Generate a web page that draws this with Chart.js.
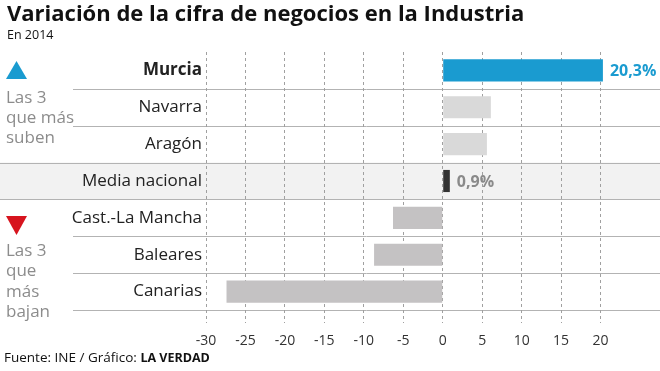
<!DOCTYPE html>
<html lang="es">
<head>
<meta charset="UTF-8">
<title>Variación de la cifra de negocios en la Industria</title>
<script src="https://cdn.jsdelivr.net/npm/chart.js@4.4.1/dist/chart.umd.min.js"></script>
<style>
  body { margin: 0; background: #fff; }
  #wrap { width: 660px; height: 371px; position: relative; }
</style>
</head>
<body>
<div id="wrap"><canvas id="chart"></canvas></div>
<script>
// datos
const regions = ['Murcia', 'Navarra', 'Aragón', 'Media nacional', 'Cast.-La Mancha', 'Baleares', 'Canarias'];
const variation = [20.3, 6.1, 5.6, 0.9, -6.3, -8.7, -27.4];
const valueLabels = ['20,3%', null, null, '0,9%', null, null, null];
const xTicks = [-30, -25, -20, -15, -10, -5, 0, 5, 10, 15, 20];

const FONT = '"Open Sans", sans-serif';
const barColors = ['#1a9bd0', '#d9d9d9', '#d9d9d9', '#333333', '#c4c2c3', '#c4c2c3', '#c4c2c3'];
const labelColors = ['#1a9bd0', null, null, '#8a8a8a'];
const MEDIA = 3;

const decor = {
    id: 'decor',
    beforeDraw(chart) {
        const ctx = chart.ctx;
        const y = chart.scales.y;
        const half = (y.getPixelForValue(1) - y.getPixelForValue(0)) / 2;
        const W = chart.width;
        ctx.save();
        // fila de la media nacional
        ctx.fillStyle = '#f2f2f2';
        ctx.fillRect(0, y.getPixelForValue(MEDIA) - half, W, half * 2);
        // separadores de filas
        ctx.strokeStyle = '#b3b3b3';
        ctx.lineWidth = 1;
        for (let i = 0; i < regions.length; i++) {
            const yy = Math.round(y.getPixelForValue(i) + half) + 0.5;
            const x0 = (i === MEDIA - 1 || i === MEDIA) ? 0 : 73;
            ctx.beginPath();
            ctx.moveTo(x0, yy);
            ctx.lineTo(W, yy);
            ctx.stroke();
        }
        ctx.restore();
    },
    afterDatasetsDraw(chart) {
        const ctx = chart.ctx;
        const meta = chart.getDatasetMeta(0);
        ctx.save();
        ctx.font = 'bold 16px ' + FONT;
        ctx.textBaseline = 'middle';
        ctx.textAlign = 'left';
        valueLabels.forEach((t, i) => {
            if (!t) return;
            const bar = meta.data[i];
            ctx.fillStyle = labelColors[i];
            ctx.fillText(t, bar.x + 7, bar.y + 1);
        });
        ctx.restore();
    },
    afterDraw(chart) {
        const ctx = chart.ctx;
        ctx.save();
        ctx.textAlign = 'left';
        ctx.textBaseline = 'alphabetic';
        ctx.fillStyle = '#111';
        ctx.font = 'bold 22px ' + FONT;
        ctx.fillText('Variación de la cifra de negocios en la Industria', 7, 21);
        ctx.font = '12.5px ' + FONT;
        ctx.fillText('En 2014', 7, 39);

        // pie
        ctx.font = '13.5px ' + FONT;
        const src = 'Fuente: INE / Gráfico: ';
        ctx.fillText(src, 4, 362);
        const w = ctx.measureText(src).width;
        ctx.font = 'bold 12.5px ' + FONT;
        ctx.fillText('LA VERDAD', 4 + w, 362);

        // notas laterales
        ctx.fillStyle = '#1a9bd0';
        ctx.beginPath();
        ctx.moveTo(16.5, 61); ctx.lineTo(27, 79); ctx.lineTo(6, 79); ctx.closePath();
        ctx.fill();
        ctx.fillStyle = '#d7141e';
        ctx.beginPath();
        ctx.moveTo(6, 216); ctx.lineTo(27, 216); ctx.lineTo(16.5, 235); ctx.closePath();
        ctx.fill();

        ctx.fillStyle = '#8c8c8c';
        ctx.font = '17px ' + FONT;
        ctx.textBaseline = 'middle';
        [['Las 3', 98], ['que más', 118], ['suben', 138]].forEach(([t, yy]) => ctx.fillText(t, 6, yy));
        [['Las 3', 251], ['que', 271], ['más', 292], ['bajan', 312]].forEach(([t, yy]) => ctx.fillText(t, 6, yy));
        ctx.restore();
    }
};

new Chart(document.getElementById('chart'), {
    type: 'bar',
    data: {
        labels: regions,
        datasets: [{
            data: variation,
            backgroundColor: barColors,
            borderWidth: 0,
            barPercentage: 0.6,
            categoryPercentage: 1
        }]
    },
    options: {
        indexAxis: 'y',
        responsive: true,
        maintainAspectRatio: false,
        animation: false,
        layout: { padding: { top: 52, right: 20, bottom: 0, left: 0 } },
        plugins: {
            legend: { display: false },
            tooltip: { enabled: false }
        },
        scales: {
            x: {
                type: 'linear',
                min: -30,
                max: 25,
                afterBuildTicks: axis => { axis.ticks = xTicks.map(v => ({ value: v })); },
                afterFit: axis => { axis.height = 61; },
                ticks: {
                    color: '#333',
                    font: { family: FONT, size: 14 },
                    padding: 10,
                    maxRotation: 0
                },
                grid: {
                    color: '#a0a0a0',
                    tickBorderDash: [3, 3],
                    tickColor: '#a0a0a0',
                    tickLength: 13,
                    drawTicks: true
                },
                border: { display: false, dash: [3, 3] }
            },
            y: {
                afterFit: axis => { axis.width = 206; },
                ticks: {
                    color: '#222',
                    padding: 4,
                    font: ctx => ({ family: FONT, size: 17, weight: ctx.index === 0 ? 'bold' : 'normal' })
                },
                grid: { display: false, drawTicks: false },
                border: { display: false }
            }
        }
    },
    plugins: [decor]
});
</script>
</body>
</html>
